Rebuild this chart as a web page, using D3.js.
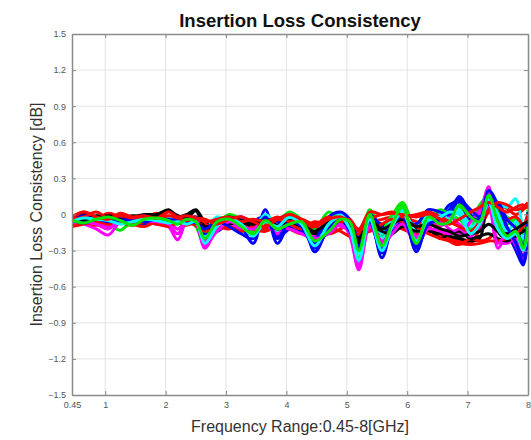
<!DOCTYPE html>
<html><head><meta charset="utf-8">
<script src="https://cdn.jsdelivr.net/npm/d3@7"></script>
<style>
body{margin:0;background:#fff;}
svg{display:block;font-family:"Liberation Sans",Arial,sans-serif;}
</style></head>
<body><svg id="c" width="531" height="440"></svg>
<script>
const freqs = [0.45,0.65,0.85,1.05,1.25,1.45,1.65,1.85,2.05,2.2,2.35,2.5,2.65,2.85,3.05,3.25,3.45,3.65,3.85,4.05,4.25,4.47,4.7,4.9,5.05,5.2,5.38,5.58,5.75,5.92,6.15,6.35,6.55,6.7,6.86,7.05,7.2,7.35,7.5,7.65,7.8,7.92,8.0];
const xTicks = [0.45,1,2,3,4,5,6,7,8];
const yTicks = [-1.5,-1.2,-0.9,-0.6,-0.3,0,0.3,0.6,0.9,1.2,1.5];
const s01 = [-0.03,-0.05,-0.02,-0.04,-0.06,-0.03,-0.07,-0.04,-0.02,-0.05,-0.03,-0.08,-0.20,-0.08,-0.03,-0.10,-0.24,0.04,-0.24,-0.08,-0.05,-0.31,-0.10,0.01,-0.12,-0.30,-0.02,-0.36,-0.10,0.03,-0.31,-0.05,0.02,-0.03,0.15,0.0,-0.08,0.12,-0.05,-0.15,-0.30,-0.42,-0.20];
const s02 = [-0.06,-0.02,-0.04,-0.08,-0.13,-0.05,-0.02,-0.04,-0.06,-0.03,-0.05,-0.10,-0.26,-0.05,-0.02,-0.06,-0.14,-0.02,-0.10,-0.04,-0.12,-0.18,-0.04,-0.02,-0.08,-0.36,0.03,-0.18,-0.02,0.10,-0.12,0.02,-0.06,0.04,0.06,-0.06,0.02,0.18,0.04,-0.02,-0.10,-0.22,-0.06];
const s03 = [-0.02,0.02,-0.03,0.01,-0.02,-0.05,-0.03,0.01,-0.02,-0.06,-0.04,-0.02,-0.10,-0.12,-0.06,-0.02,-0.08,-0.12,-0.06,-0.02,-0.10,-0.14,-0.06,-0.04,-0.10,-0.20,-0.08,-0.04,-0.02,-0.02,-0.06,-0.10,-0.18,-0.20,-0.22,-0.24,-0.12,0.02,0.08,0.05,0.0,0.04,0.08];
const s04 = [-0.04,-0.06,-0.03,-0.02,-0.05,-0.07,-0.04,-0.02,-0.05,-0.08,-0.03,-0.05,-0.18,-0.06,-0.04,-0.12,-0.10,-0.03,-0.14,-0.06,-0.08,-0.20,-0.06,0.0,-0.06,-0.40,0.02,-0.20,-0.06,0.06,-0.18,0.0,-0.04,0.06,0.04,-0.08,0.04,0.20,0.10,0.06,0.13,-0.10,0.02];
const s05 = [-0.05,-0.08,-0.12,-0.17,-0.06,-0.03,-0.06,-0.05,-0.10,-0.21,-0.06,-0.08,-0.28,-0.12,-0.05,-0.08,-0.18,-0.06,-0.12,-0.10,-0.14,-0.22,-0.12,-0.06,-0.18,-0.46,-0.08,-0.24,-0.12,-0.04,-0.20,-0.06,-0.10,-0.02,-0.08,-0.14,0.0,0.23,-0.28,-0.18,-0.24,-0.34,-0.15];
const s06 = [-0.02,0.0,-0.02,-0.01,-0.03,-0.02,0.0,0.0,0.04,-0.02,0.0,0.04,-0.06,-0.10,-0.04,-0.03,-0.06,-0.10,-0.08,-0.03,-0.06,-0.12,-0.08,-0.05,-0.12,-0.22,-0.06,-0.08,-0.10,-0.06,-0.12,-0.14,-0.16,-0.18,-0.20,-0.22,-0.20,0.20,-0.14,-0.20,-0.16,-0.12,-0.10];
const s07 = [-0.06,-0.04,-0.07,-0.05,-0.03,-0.06,-0.08,-0.05,-0.03,-0.04,-0.07,-0.05,-0.16,-0.04,-0.08,-0.14,-0.06,-0.02,-0.18,-0.12,-0.06,-0.24,-0.14,-0.03,-0.08,-0.28,-0.04,-0.28,-0.06,0.0,-0.26,-0.10,-0.02,0.08,0.10,-0.04,0.06,0.16,-0.02,-0.12,-0.20,-0.36,-0.12];
const s08 = [-0.03,-0.05,-0.02,-0.06,-0.04,-0.02,-0.05,-0.07,-0.04,-0.02,-0.06,-0.04,-0.14,-0.08,0.0,-0.04,-0.10,-0.04,-0.06,0.02,-0.04,-0.12,0.02,-0.06,-0.14,-0.26,0.04,-0.12,0.0,0.08,-0.22,-0.04,0.04,0.0,-0.04,-0.12,0.08,0.14,0.02,-0.08,-0.04,-0.16,0.04];
const s09 = [-0.08,-0.06,-0.09,-0.07,-0.05,-0.08,-0.10,-0.06,-0.08,-0.05,-0.07,-0.09,-0.14,-0.10,-0.12,-0.08,-0.12,-0.14,-0.10,-0.12,-0.16,-0.10,-0.16,-0.12,-0.08,-0.24,-0.12,-0.16,-0.10,-0.12,-0.16,-0.08,-0.12,-0.22,-0.25,-0.20,-0.22,-0.20,-0.12,-0.05,-0.02,-0.08,-0.04];
const s10 = [-0.02,-0.04,-0.05,-0.03,-0.06,-0.04,-0.03,-0.06,-0.02,-0.05,-0.04,-0.03,-0.12,-0.02,-0.06,-0.04,-0.12,0.0,-0.08,-0.04,-0.10,-0.16,-0.02,-0.08,-0.10,-0.32,-0.02,-0.16,-0.04,0.04,-0.14,-0.06,0.0,-0.04,0.02,-0.10,-0.04,0.12,0.0,-0.14,-0.06,-0.20,-0.08];
const s11 = [-0.07,-0.05,-0.06,-0.10,-0.04,-0.06,-0.05,-0.08,-0.06,-0.12,-0.05,-0.07,-0.22,-0.10,-0.08,-0.12,-0.10,-0.08,-0.16,-0.06,-0.12,-0.18,-0.08,-0.10,-0.14,-0.42,-0.06,-0.22,-0.14,-0.02,-0.18,-0.10,-0.06,-0.12,-0.16,-0.06,0.04,0.18,-0.22,-0.24,-0.20,-0.30,-0.18];
const s12 = [-0.05,-0.03,-0.04,-0.06,-0.05,-0.04,-0.06,-0.03,-0.05,-0.04,-0.02,-0.05,-0.12,-0.06,-0.08,-0.06,-0.10,-0.06,-0.12,-0.08,-0.10,-0.16,-0.10,-0.08,-0.10,-0.24,-0.10,-0.14,-0.16,-0.10,-0.14,-0.12,-0.20,-0.16,-0.14,-0.20,-0.18,-0.16,-0.20,-0.22,-0.18,-0.14,-0.12];
const s13 = [-0.04,-0.01,-0.05,-0.03,-0.07,-0.04,-0.01,-0.06,-0.04,-0.07,-0.05,-0.02,-0.08,-0.14,-0.06,-0.02,-0.08,-0.04,-0.06,-0.10,-0.14,-0.20,-0.02,0.02,-0.04,-0.18,0.0,-0.10,-0.14,-0.06,-0.08,0.04,0.02,0.0,0.12,0.04,-0.02,0.08,0.10,-0.04,-0.12,-0.26,0.02];
const s14 = [-0.05,-0.07,-0.04,-0.02,-0.05,-0.09,-0.04,-0.03,-0.05,-0.08,-0.04,-0.06,-0.20,-0.06,-0.04,-0.10,-0.16,-0.05,-0.12,-0.08,-0.06,-0.22,-0.14,-0.04,-0.06,-0.30,0.0,-0.26,-0.08,0.06,-0.24,-0.02,-0.08,-0.06,0.08,-0.02,-0.06,0.16,-0.06,-0.18,-0.14,-0.28,-0.10];
const s15 = [-0.04,-0.02,0.02,-0.03,-0.01,-0.03,-0.02,-0.04,-0.01,-0.03,-0.05,-0.03,-0.06,-0.04,-0.02,-0.06,-0.04,-0.06,-0.02,-0.06,-0.04,-0.08,-0.02,-0.06,-0.04,-0.14,-0.04,0.0,0.02,-0.02,0.0,0.02,-0.02,-0.06,-0.10,-0.14,-0.06,0.04,0.10,0.08,0.04,0.06,0.10];
const s16 = [-0.06,-0.03,-0.04,-0.05,-0.08,-0.06,-0.04,-0.05,-0.07,-0.06,-0.08,-0.06,-0.24,-0.10,-0.04,-0.08,-0.18,-0.06,-0.10,-0.02,-0.08,-0.26,-0.08,-0.02,-0.12,-0.38,-0.04,-0.30,-0.10,0.02,-0.22,-0.04,-0.02,0.02,0.0,-0.16,-0.08,0.10,-0.12,-0.20,-0.16,-0.30,-0.14];
const s17 = [-0.03,-0.06,-0.08,-0.12,-0.04,-0.02,-0.05,-0.06,-0.08,-0.16,-0.04,-0.05,-0.25,-0.14,-0.06,-0.10,-0.12,-0.04,-0.10,-0.12,-0.16,-0.20,-0.16,-0.08,-0.16,-0.44,-0.10,-0.26,-0.16,-0.08,-0.24,-0.12,-0.14,-0.16,-0.12,-0.18,-0.10,0.06,-0.24,-0.16,-0.26,-0.38,-0.22];
const s18 = [-0.03,-0.05,-0.01,-0.03,-0.04,-0.01,-0.03,-0.02,0.03,-0.01,-0.03,0.03,-0.10,-0.06,-0.02,-0.05,-0.08,-0.04,-0.09,-0.05,-0.08,-0.14,-0.06,-0.03,-0.10,-0.20,-0.04,-0.12,-0.08,-0.04,-0.10,-0.08,-0.12,-0.14,-0.18,-0.16,-0.14,-0.08,-0.14,-0.16,-0.12,-0.08,-0.06];
const s19 = [-0.10,-0.08,-0.06,-0.08,-0.07,-0.09,-0.06,-0.08,-0.10,-0.07,-0.09,-0.06,-0.08,-0.12,-0.10,-0.14,-0.10,-0.08,-0.04,-0.08,-0.12,-0.06,-0.10,-0.14,-0.18,-0.16,-0.14,-0.08,-0.04,-0.06,-0.10,-0.16,-0.20,-0.22,-0.24,-0.25,-0.24,-0.22,-0.22,-0.20,-0.16,-0.10,0.0];
const s20 = [-0.05,-0.07,-0.04,-0.06,-0.05,-0.03,-0.06,-0.04,-0.06,-0.03,-0.06,-0.07,-0.12,-0.06,-0.10,-0.16,-0.20,-0.02,-0.20,-0.06,-0.10,-0.28,-0.12,-0.04,-0.14,-0.26,-0.06,-0.32,-0.08,-0.02,-0.28,-0.08,-0.04,0.04,0.14,-0.02,-0.04,0.20,0.08,-0.10,-0.24,-0.40,-0.16];
const s21 = [-0.03,0.02,-0.02,-0.04,0.01,-0.02,-0.01,-0.03,0.02,-0.02,-0.01,-0.03,-0.04,-0.08,-0.04,-0.02,-0.06,-0.10,-0.04,0.0,-0.04,-0.10,-0.04,-0.02,-0.06,-0.12,0.02,0.0,0.01,0.0,-0.02,0.0,-0.04,-0.08,-0.04,0.02,0.06,0.10,0.06,0.02,0.06,0.08,0.05];
// drawing order and colours
const seriesList = [s01,s02,s03,s04,s05,s06,s07,s08,s09,s10,s11,s12,s13,s19,s17,s18,s20,s15,s16,s21,s14];
const seriesColors = ["#0000ff","#00e600","#ff0000","#00ffff","#ff00ff","#000000",
                      "#0000ff","#00e600","#ff0000","#00ffff","#ff00ff","#000000",
                      "#0000ff","#ff0000","#ff00ff","#000000","#0000ff","#ff0000","#00ffff","#ff0000","#00e600"];

const L=72,R=528,T=34,B=395;
const svg=d3.select("#c");
const x=d3.scaleLinear().domain([0.45,8]).range([L,R]);
const y=d3.scaleLinear().domain([-1.5,1.5]).range([B,T]);

svg.append("rect").attr("x",L).attr("y",T).attr("width",R-L).attr("height",B-T).attr("fill","#fff");
const g=svg.append("g");
g.selectAll(".gx").data(xTicks.slice(1,-1)).join("line")
 .attr("x1",d=>x(d)).attr("x2",d=>x(d)).attr("y1",T).attr("y2",B)
 .attr("stroke","#e3e3e3").attr("stroke-width",1);
g.selectAll(".gy").data(yTicks.slice(1,-1)).join("line")
 .attr("y1",d=>y(d)).attr("y2",d=>y(d)).attr("x1",L).attr("x2",R)
 .attr("stroke","#e3e3e3").attr("stroke-width",1);

svg.append("clipPath").attr("id","cp").append("rect").attr("x",L).attr("y",T).attr("width",R-L).attr("height",B-T);
const line=d3.line().x((d,i)=>x(freqs[i])).y(d=>y(d)).curve(d3.curveCatmullRom.alpha(0.5));
svg.append("g").attr("clip-path","url(#cp)").selectAll("path").data(seriesList).join("path")
 .attr("d",line).attr("fill","none").attr("stroke",(d,i)=>seriesColors[i])
 .attr("stroke-width",3).attr("stroke-linejoin","round");

const axColor="#8a8a8a";
const xb=svg.append("g").attr("transform",`translate(0,${B})`)
 .call(d3.axisBottom(x).tickValues(xTicks).tickFormat(d=>d===0.45?"0.45":d3.format("d")(d)).tickSizeInner(-4).tickSizeOuter(0).tickPadding(7));
const xt=svg.append("g").attr("transform",`translate(0,${T})`)
 .call(d3.axisTop(x).tickValues(xTicks).tickFormat("").tickSizeInner(-4).tickSizeOuter(0));
const yl=svg.append("g").attr("transform",`translate(${L},0)`)
 .call(d3.axisLeft(y).tickValues(yTicks).tickFormat(d=>d===0?"0":d3.format(".1f")(d)).tickSizeInner(-4).tickSizeOuter(0).tickPadding(6));
const yr=svg.append("g").attr("transform",`translate(${R},0)`)
 .call(d3.axisRight(y).tickValues(yTicks).tickFormat("").tickSizeInner(-4).tickSizeOuter(0));
[xb,xt,yl,yr].forEach(a=>{
 a.select(".domain").attr("stroke",axColor).attr("stroke-width",1.5);
 a.selectAll(".tick line").attr("stroke",axColor);
 a.selectAll(".tick text").attr("fill","#555").attr("font-size",9).attr("font-family","Liberation Sans, Arial, sans-serif");
});

svg.append("text").attr("x",(L+R)/2).attr("y",27).attr("text-anchor","middle")
 .attr("font-size",18.5).attr("font-weight","bold").attr("fill","#111").text("Insertion Loss Consistency");
svg.append("text").attr("x",(L+R)/2).attr("y",432).attr("text-anchor","middle")
 .attr("font-size",16).attr("fill","#333").text("Frequency Range:0.45-8[GHz]");
svg.append("text").attr("transform",`translate(42,${(T+B)/2}) rotate(-90)`).attr("text-anchor","middle")
 .attr("font-size",16).attr("fill","#333").text("Insertion Loss Consistency [dB]");
</script></body></html>
